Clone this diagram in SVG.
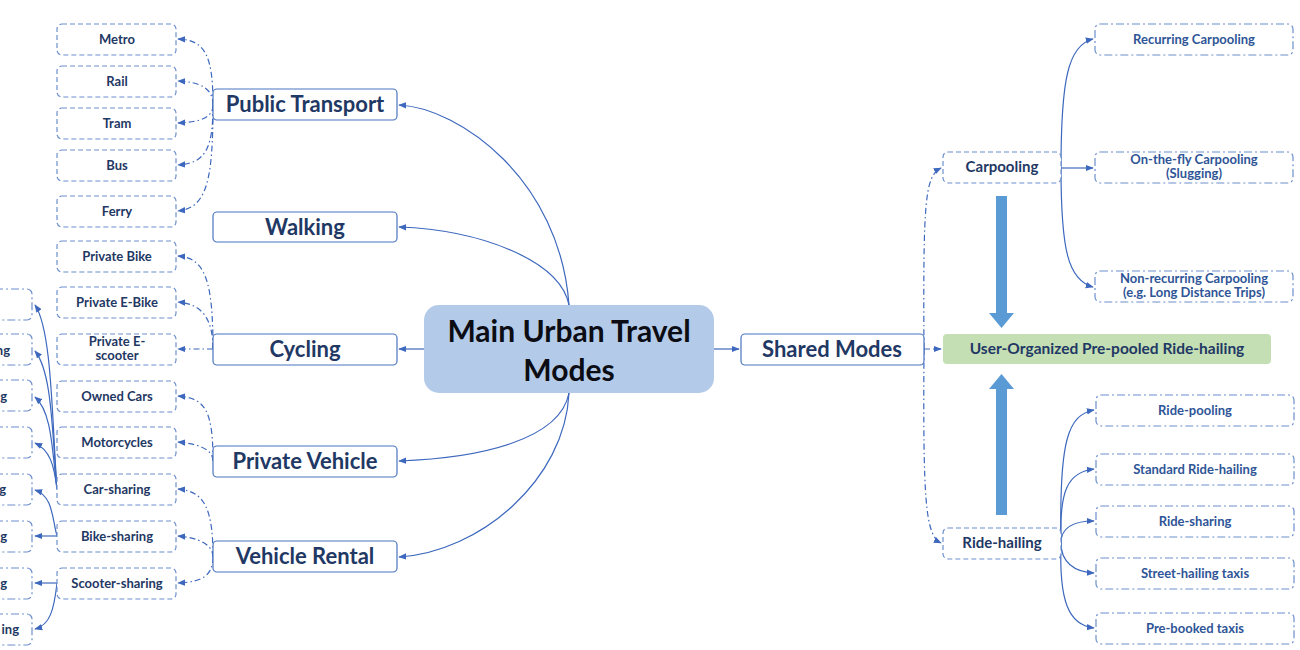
<svg xmlns="http://www.w3.org/2000/svg" width="1300" height="650" viewBox="0 0 1300 650">
<style>
text{font-family:Lato,"Liberation Sans",sans-serif;font-weight:bold;text-anchor:middle}
.leaf{fill:#fff;stroke:#6d8fcc;stroke-width:1.2;stroke-dasharray:5 3}
.leafdd{fill:#fff;stroke:#6d8fcc;stroke-width:1.2;stroke-dasharray:8 3 2 3}
.mid{fill:#fff;stroke:#4a74c0;stroke-width:1.2}
.t13{font-size:13px;fill:#1f3864}
.t13b{font-size:13px;fill:#2f5597}
.t20{font-size:22px;fill:#1f3864}
.t15{font-size:15px;fill:#1f3864}
.c{fill:none;stroke:#3d68bd;stroke-width:1.2;marker-end:url(#ah)}
.cd{fill:none;stroke:#3d68bd;stroke-width:1.2;stroke-dasharray:6 3 1.5 3;marker-end:url(#ah)}
.big{fill:#5b9bd5}
</style>
<defs>
<marker id="ah" viewBox="0 0 10 10" refX="9" refY="5" markerWidth="8" markerHeight="8" markerUnits="userSpaceOnUse" orient="auto"><path d="M0,1 L10,5 L0,9 z" fill="#3d68bd"/></marker>
</defs>

<g id="connectors">
<path class="c" d="M569,305 C560,180 460,108 399,105"/>
<path class="c" d="M569,305 C560,260 480,230 399,227"/>
<path class="c" d="M424,349 L399,349"/>
<path class="c" d="M569,393 C560,440 480,458 399,461"/>
<path class="c" d="M569,393 C565,480 480,552 399,557"/>
<path class="c" d="M714,349 L739,349"/>
<path class="cd" d="M213,105 C213,55 205,40 178,39"/>
<path class="cd" d="M213,105 C213,88 200,82 178,81"/>
<path class="cd" d="M213,105 C213,118 200,122 178,123"/>
<path class="cd" d="M213,105 C213,150 205,163 178,165"/>
<path class="cd" d="M213,105 C213,180 207,208 178,211"/>
<path class="cd" d="M213,349 C213,280 205,258 178,256"/>
<path class="cd" d="M213,349 C213,320 203,304 178,302"/>
<path class="cd" d="M213,349 L178,349"/>
<path class="cd" d="M213,461 C213,410 205,398 178,396"/>
<path class="cd" d="M213,461 C213,450 200,444 178,442"/>
<path class="cd" d="M213,557 C213,510 205,491 178,489"/>
<path class="cd" d="M213,557 C213,545 200,538 178,536"/>
<path class="cd" d="M213,557 C213,575 203,582 178,583"/>
<path class="c" d="M57,489 C52,420 52,330 35,305"/>
<path class="c" d="M57,489 C52,430 52,372 35,351"/>
<path class="c" d="M57,489 C52,450 52,412 35,397"/>
<path class="c" d="M57,489 C54,465 50,450 35,443"/>
<path class="c" d="M57,536 C52,518 53,496 35,490"/>
<path class="c" d="M57,536 L35,536"/>
<path class="c" d="M57,583 L35,583"/>
<path class="c" d="M57,583 C54,610 50,625 35,629"/>
<path class="cd" d="M924,349 L941,349"/>
<path class="cd" d="M924,349 C923,200 925,176 941,168"/>
<path class="cd" d="M924,349 C923,500 925,535 941,543"/>
<path class="c" d="M1061,168 C1061,80 1068,45 1093,39"/>
<path class="c" d="M1061,168 L1093,168"/>
<path class="c" d="M1061,168 C1061,250 1068,280 1093,287"/>
<path class="c" d="M1061,543 C1059,440 1068,415 1094,410"/>
<path class="c" d="M1061,543 C1059,490 1068,472 1094,469"/>
<path class="c" d="M1061,543 C1061,527 1074,521 1094,521"/>
<path class="c" d="M1061,543 C1061,562 1074,572 1094,573"/>
<path class="c" d="M1061,543 C1059,600 1068,625 1094,628"/>
</g>

<g id="big-arrows">
<path class="big" d="M996,196 H1007 V313 H1014 L1001.5,328 L989,313 H996 Z"/>
<path class="big" d="M996,515 H1007 V389 H1014 L1001.5,374 L989,389 H996 Z"/>
</g>

<g id="center"><rect x="424" y="305" width="290" height="88" rx="15" fill="#b3cbe8"/>
<text x="569" y="342" style="font-size:30px;fill:#0c0c14">Main Urban Travel</text>
<text x="569" y="381" style="font-size:30px;fill:#0c0c14">Modes</text></g>

<g id="public-transport"><rect class="mid" x="213" y="89" width="184" height="31" rx="4"/><text class="t20" x="305" y="112">Public Transport</text></g>
<g id="walking"><rect class="mid" x="213" y="212" width="184" height="30" rx="4"/><text class="t20" x="305" y="235">Walking</text></g>
<g id="cycling"><rect class="mid" x="213" y="334" width="184" height="31" rx="4"/><text class="t20" x="305" y="357">Cycling</text></g>
<g id="private-vehicle"><rect class="mid" x="213" y="446" width="184" height="31" rx="4"/><text class="t20" x="305" y="469">Private Vehicle</text></g>
<g id="vehicle-rental"><rect class="mid" x="213" y="541" width="184" height="31" rx="4"/><text class="t20" x="305" y="564">Vehicle Rental</text></g>
<g id="shared-modes"><rect class="mid" x="741" y="334" width="183" height="31" rx="4"/><text class="t20" x="832" y="357">Shared Modes</text></g>

<g id="metro"><rect class="leaf" x="57" y="24" width="119" height="31" rx="5"/><text class="t13" x="117" y="44">Metro</text></g>
<g id="rail"><rect class="leaf" x="57" y="66" width="119" height="31" rx="5"/><text class="t13" x="117" y="86">Rail</text></g>
<g id="tram"><rect class="leaf" x="57" y="108" width="119" height="31" rx="5"/><text class="t13" x="117" y="128">Tram</text></g>
<g id="bus"><rect class="leaf" x="57" y="150" width="119" height="31" rx="5"/><text class="t13" x="117" y="170">Bus</text></g>
<g id="ferry"><rect class="leaf" x="57" y="196" width="119" height="31" rx="5"/><text class="t13" x="117" y="216">Ferry</text></g>
<g id="private-bike"><rect class="leaf" x="57" y="241" width="119" height="31" rx="5"/><text class="t13" x="117" y="261">Private Bike</text></g>
<g id="private-ebike"><rect class="leaf" x="57" y="287" width="119" height="31" rx="5"/><text class="t13" x="117" y="307">Private E-Bike</text></g>
<g id="private-escooter"><rect class="leaf" x="57" y="334" width="119" height="31" rx="5"/><text class="t13" x="117" y="346">Private E-</text><text class="t13" x="117" y="360">scooter</text></g>
<g id="owned-cars"><rect class="leaf" x="57" y="381" width="119" height="31" rx="5"/><text class="t13" x="117" y="401">Owned Cars</text></g>
<g id="motorcycles"><rect class="leaf" x="57" y="427" width="119" height="31" rx="5"/><text class="t13" x="117" y="447">Motorcycles</text></g>
<g id="car-sharing"><rect class="leaf" x="57" y="474" width="119" height="31" rx="5"/><text class="t13" x="117" y="494">Car-sharing</text></g>
<g id="bike-sharing"><rect class="leaf" x="57" y="521" width="119" height="31" rx="5"/><text class="t13" x="117" y="541">Bike-sharing</text></g>
<g id="scooter-sharing"><rect class="leaf" x="57" y="568" width="119" height="31" rx="5"/><text class="t13" x="117" y="588">Scooter-sharing</text></g>

<g id="fl1"><rect class="leafdd" x="-90" y="289" width="122" height="31" rx="5"/></g>
<g id="fl2"><rect class="leafdd" x="-90" y="334" width="122" height="31" rx="5"/><text class="t13" x="10" y="355" style="text-anchor:end">ng</text></g>
<g id="fl3"><rect class="leafdd" x="-90" y="380" width="122" height="31" rx="5"/><text class="t13" x="7" y="401" style="text-anchor:end">g</text></g>
<g id="fl4"><rect class="leafdd" x="-90" y="427" width="122" height="31" rx="5"/></g>
<g id="fl5"><rect class="leafdd" x="-90" y="474" width="122" height="31" rx="5"/><text class="t13" x="6" y="494" style="text-anchor:end">g</text></g>
<g id="fl6"><rect class="leafdd" x="-90" y="521" width="122" height="31" rx="5"/><text class="t13" x="7" y="541" style="text-anchor:end">g</text></g>
<g id="fl7"><rect class="leafdd" x="-90" y="568" width="122" height="31" rx="5"/><text class="t13" x="7" y="588" style="text-anchor:end">g</text></g>
<g id="fl8"><rect class="leafdd" x="-90" y="614" width="122" height="31" rx="5"/><text class="t13" x="19" y="634" style="text-anchor:end">ing</text></g>

<g id="carpooling"><rect class="leaf" x="943" y="152" width="118" height="31" rx="5"/><text class="t15" x="1002" y="172">Carpooling</text></g>
<g id="ride-hailing"><rect class="leaf" x="943" y="528" width="118" height="31" rx="5"/><text class="t15" x="1002" y="548">Ride-hailing</text></g>
<g id="user-organized"><rect x="943" y="334" width="328" height="30" rx="4" fill="#c5dfb4"/><text x="1107" y="354" style="font-size:15.5px;fill:#1f3864">User-Organized Pre-pooled Ride-hailing</text></g>

<g id="recurring"><rect class="leafdd" x="1095" y="24" width="198" height="31" rx="5"/><text class="t13b" x="1194" y="44">Recurring Carpooling</text></g>
<g id="on-the-fly"><rect class="leafdd" x="1095" y="152" width="198" height="31" rx="5"/><text class="t13b" x="1194" y="164">On-the-fly Carpooling</text><text class="t13b" x="1194" y="178">(Slugging)</text></g>
<g id="non-recurring"><rect class="leafdd" x="1095" y="271" width="198" height="31" rx="5"/><text class="t13b" x="1194" y="283">Non-recurring Carpooling</text><text class="t13b" x="1194" y="297">(e.g. Long Distance Trips)</text></g>
<g id="ride-pooling"><rect class="leafdd" x="1096" y="395" width="198" height="31" rx="5"/><text class="t13b" x="1195" y="415">Ride-pooling</text></g>
<g id="standard"><rect class="leafdd" x="1096" y="454" width="198" height="31" rx="5"/><text class="t13b" x="1195" y="474">Standard Ride-hailing</text></g>
<g id="ride-sharing"><rect class="leafdd" x="1096" y="506" width="198" height="31" rx="5"/><text class="t13b" x="1195" y="526">Ride-sharing</text></g>
<g id="street-hailing"><rect class="leafdd" x="1096" y="558" width="198" height="31" rx="5"/><text class="t13b" x="1195" y="578">Street-hailing taxis</text></g>
<g id="pre-booked"><rect class="leafdd" x="1096" y="613" width="198" height="31" rx="5"/><text class="t13b" x="1195" y="633">Pre-booked taxis</text></g>
</svg>
